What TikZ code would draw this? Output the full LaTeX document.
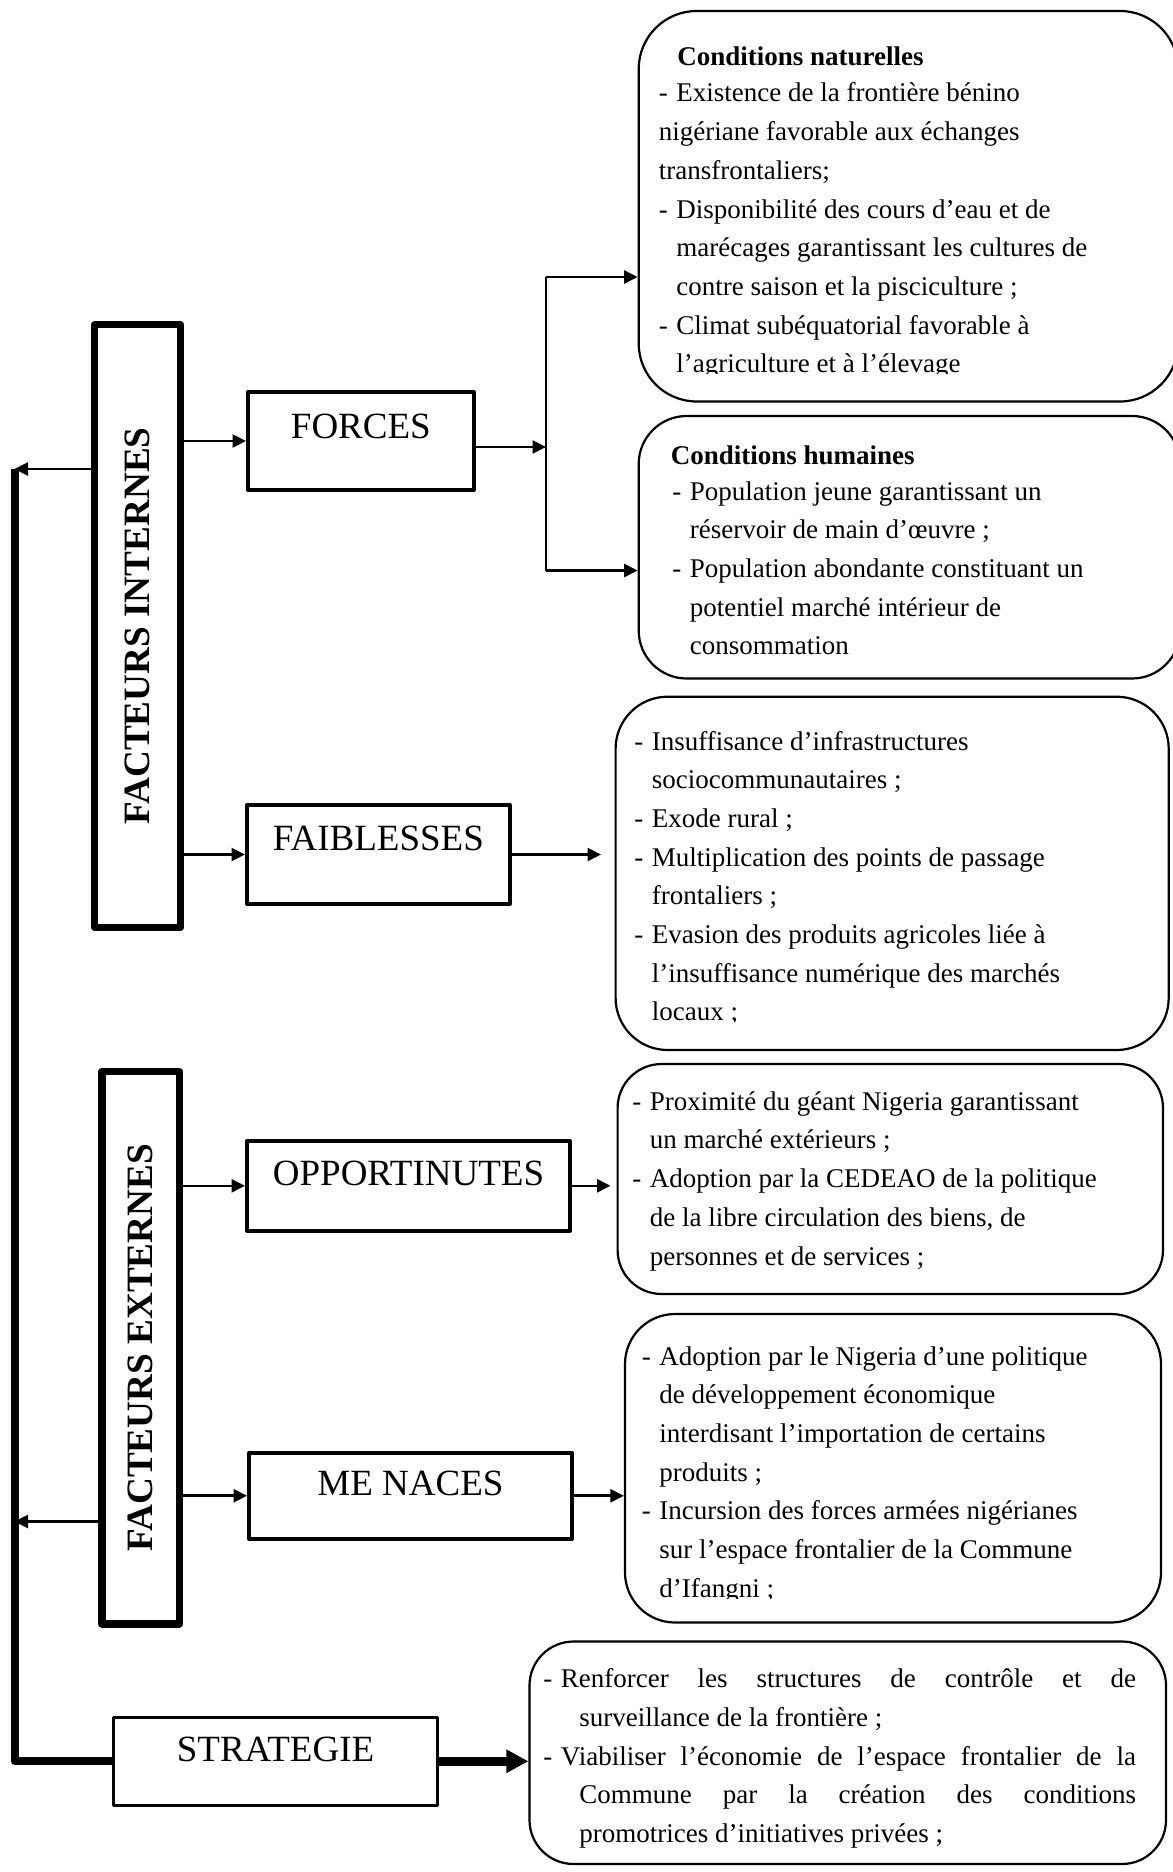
\documentclass[tikz,border=0pt]{standalone}
\usepackage{fontspec}
\setmainfont{Liberation Serif}
\usepackage{graphicx}
\usetikzlibrary{arrows.meta}
\newcommand{\corps}{\fontsize{13.5}{19.35}\selectfont}
\newcommand{\tiret}{\makebox[8.75pt][l]{-}}
\newcommand{\suite}{\hspace*{8.75pt}}
\begin{document}
\begin{tikzpicture}[x=0.5pt, y=-0.5pt, line join=round,
	facteur/.style={draw, line width=3.6pt, inner sep=0, font=\fontsize{18.6}{22}\selectfont\bfseries},
	swot/.style={draw, line width=2pt, inner sep=0, text height=6pt, text depth=6pt, font=\fontsize{18.5}{22}\selectfont},
	bulle/.style={draw, line width=1.1pt, rounded corners=#1, inner sep=0},
	texte/.style={anchor=base west, inner sep=0, font=\corps},
	fleche/.style={line width=1.3pt, -{Triangle[length=6.75pt,width=6.5pt]}},
	grossefleche/.style={line width=4.25pt, -{Triangle[length=11pt,width=11pt]}}]
	\useasboundingbox (0,0) rectangle (1172,1872);
	\node[facteur, minimum width=43pt, minimum height=301.25pt] (internes) at (137.75,626) {\rotatebox{90}{FACTEURS INTERNES}};
	\node[facteur, minimum width=38.8pt, minimum height=276.25pt] (externes) at (140.7,1347.75) {\rotatebox{90}{FACTEURS EXTERNES}};
	\node[swot, text depth=9pt, minimum width=112.85pt, minimum height=49pt] (forces) at (360.85,441) {FORCES};
	\node[swot, text depth=10.5pt, minimum width=131.35pt, minimum height=49.5pt] (faiblesses) at (378.35,854.5) {FAIBLESSES};
	\node[swot, minimum width=161.5pt, minimum height=44.8pt] (opportunites) at (408.5,1185.8) {OPPORTINUTES};
	\node[swot, minimum width=161.5pt, minimum height=43.25pt] (menaces) at (410.5,1495.75) {ME NACES};
	\node[swot, line width=1.5pt, minimum width=162pt, minimum height=43.75pt] (strategie) at (275.5,1761.25) {STRATEGIE};
	\node[bulle=29pt, minimum width=269.65pt, minimum height=195.25pt] (nat) at (908.35,206.25) {};
	\node[bulle=24pt, minimum width=270.65pt, minimum height=131.25pt] (hum) at (909.35,547.25) {};
	\node[bulle=26pt, minimum width=276.55pt, minimum height=176.65pt] (bfaib) at (892.15,873.35) {};
	\node[bulle=22pt, minimum width=272.7pt, minimum height=115pt] (bopp) at (890.3,1179) {};
	\node[bulle=25pt, minimum width=268pt, minimum height=154.25pt] (bmen) at (893,1468.25) {};
	\node[bulle=22pt, minimum width=318.25pt, minimum height=111.25pt] (bstrat) at (847.75,1752.75) {};
	\node[texte, font=\corps\bfseries] (titnat) at (677,66) {Conditions naturelles};
	\begin{scope}
		\clip (600,80) rectangle (1165,373.7);
		\node[texte] (tnat) at (658.5,102) {\parbox[t]{280pt}{\raggedright\corps
			\tiret Existence de la frontière bénino\\
			nigériane favorable aux échanges\\
			transfrontaliers;\\
			\tiret Disponibilité des cours d’eau et de\\
			\suite marécages garantissant les cultures de\\
			\suite contre saison et la pisciculture ;\\
			\tiret Climat subéquatorial favorable à\\
			\suite l’agriculture et à l’élevage}};
	\end{scope}
	\node[texte, font=\corps\bfseries] (tithum) at (670.5,464) {Conditions humaines};
	\node[texte] (thum) at (672,500) {\parbox[t]{280pt}{\raggedright\corps
		\tiret Population jeune garantissant un\\
		\suite réservoir de main d’œuvre ;\\
		\tiret Population abondante constituant un\\
		\suite potentiel marché intérieur de\\
		\suite consommation}};
	\begin{scope}
		\clip (600,720) rectangle (1165,1021.7);
		\node[texte] (tfaib) at (634,750) {\parbox[t]{280pt}{\raggedright\corps
			\tiret Insuffisance d’infrastructures\\
			\suite sociocommunautaires ;\\
			\tiret Exode rural ;\\
			\tiret Multiplication des points de passage\\
			\suite frontaliers ;\\
			\tiret Evasion des produits agricoles liée à\\
			\suite l’insuffisance numérique des marchés\\
			\suite locaux ;}};
	\end{scope}
	\node[texte] (topp) at (632,1110.2) {\parbox[t]{280pt}{\raggedright\corps
		\tiret Proximité du géant Nigeria garantissant\\
		\suite un marché extérieurs ;\\
		\tiret Adoption par la CEDEAO de la politique\\
		\suite de la libre circulation des biens, de\\
		\suite personnes et de services ;}};
	\begin{scope}
		\clip (600,1330) rectangle (1160,1598);
		\node[texte] (tmen) at (641.4,1365) {\parbox[t]{280pt}{\raggedright\corps
			\tiret Adoption par le Nigeria d’une politique\\
			\suite de développement économique\\
			\suite interdisant l’importation de certains\\
			\suite produits ;\\
			\tiret Incursion des forces armées nigérianes\\
			\suite sur l’espace frontalier de la Commune\\
			\suite d’Ifangni ;}};
	\end{scope}
	\node[texte] (tstrat) at (543,1687.7) {\parbox[t]{300pt}{\corps
		\makebox[296.3pt][s]{\tiret Renforcer les structures de contrôle et de}\\
		\hspace*{18pt}surveillance de la frontière ;\\
		\makebox[296.3pt][s]{\tiret Viabiliser l’économie de l’espace frontalier de la}\\
		\hspace*{18pt}\makebox[278.3pt][s]{Commune par la création des conditions}\\
		\hspace*{18pt}promotrices d’initiatives privées ;}};
	\coordinate (hautgauche) at (14.5,469);
	\coordinate (basgauche) at (14.5,1521.5);
	\coordinate (fourche) at (546,447);
	\coordinate (fourchehaut) at (546,277);
	\coordinate (fourchebas) at (546,570.5);
	\draw[line width=4pt] (hautgauche) |- (strategie.west);
	\draw[fleche] (internes.west |- hautgauche) -- (hautgauche);
	\draw[fleche] (externes.west |- basgauche) -- (basgauche);
	\draw[fleche] (forces.west -| internes.east) -- (forces.west);
	\draw[fleche] (faiblesses.west -| internes.east) -- (faiblesses.west);
	\draw[fleche] (opportunites.west -| externes.east) -- (opportunites.west);
	\draw[fleche] (menaces.west -| externes.east) -- (menaces.west);
	\draw[fleche] (forces.east |- fourche) -- (fourche);
	\draw[line width=1.1pt] (fourchehaut) -- (fourchebas);
	\draw[fleche] (fourchehaut) -- (fourchehaut -| nat.west);
	\draw[fleche] (fourchebas) -- (fourchebas -| hum.west);
	\draw[fleche, shorten >=6.75pt] (faiblesses.east) -- (faiblesses.east -| bfaib.west);
	\draw[fleche, shorten >=3pt] (opportunites.east) -- (opportunites.east -| bopp.west);
	\draw[fleche] (menaces.east) -- (menaces.east -| bmen.west);
	\draw[grossefleche] (strategie.east) -- (strategie.east -| bstrat.west);
\end{tikzpicture}
\end{document}
